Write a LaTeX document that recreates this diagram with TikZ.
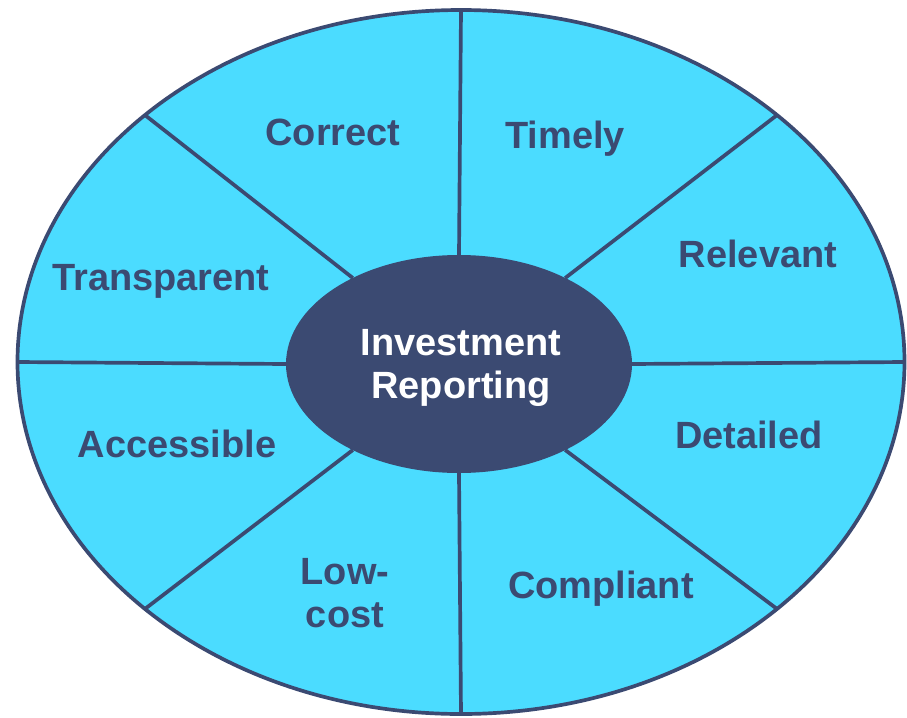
\documentclass[tikz,border=0pt]{standalone}
\usepackage{fontspec}
\setmainfont{Liberation Sans}
\usepackage{tikz}
\usetikzlibrary{positioning,backgrounds,calc,shapes.geometric}
\definecolor{wheelfill}{RGB}{75,220,255}
\definecolor{navy}{RGB}{59,74,114}

\begin{document}
\begin{tikzpicture}[semithick,
   spoke/.style={navy, line width=2.1pt},
   quality/.style={text=navy, font=\fontsize{21.6}{24.4}\selectfont\bfseries, align=center, inner sep=0pt}]
  \useasboundingbox (-9.22,-7.10) rectangle (8.92,7.24);
  \node[draw=navy, fill=wheelfill, line width=2.1pt, ellipse, outer sep=0pt, minimum width=17.74cm, minimum height=14.08cm] (wheel) at (0, 0) {};
  \node[fill=navy, ellipse, outer sep=0pt, minimum width=6.92cm, minimum height=4.36cm] (hub) at (-0.04, -0.04) {};
  % spokes
  \draw[spoke] (wheel.north) -- (hub.north);
  \draw[spoke] (hub.south) -- (wheel.south);
  \draw[spoke] (wheel.west) -- (hub.west);
  \draw[spoke] (hub.east) -- (wheel.east);
  \draw[spoke] (hub.141) -- (wheel.142);
  \draw[spoke] (hub.39) -- (wheel.38);
  \draw[spoke] (hub.219) -- (wheel.218);
  \draw[spoke] (hub.321) -- (wheel.322);
  \node[quality, text=white] (hubtext) at (0, -0.12) {Investment\\Reporting};
  % qualities
  \node[quality] (correct) at (-2.56, 4.60) {Correct};
  \node[quality] (timely) at (2.08, 4.46) {Timely};
  \node[quality] (transparent) at (-6.00, 1.62) {Transparent};
  \node[quality] (relevant) at (5.94, 2.16) {Relevant};
  \node[quality] (accessible) at (-5.68, -1.64) {Accessible};
  \node[quality] (detailed) at (5.76, -1.46) {Detailed};
  \node[quality] (lowcost) at (-2.32, -4.62) {Low-\\cost};
  \node[quality] (compliant) at (2.80, -4.54) {Compliant};
\end{tikzpicture}
\end{document}
